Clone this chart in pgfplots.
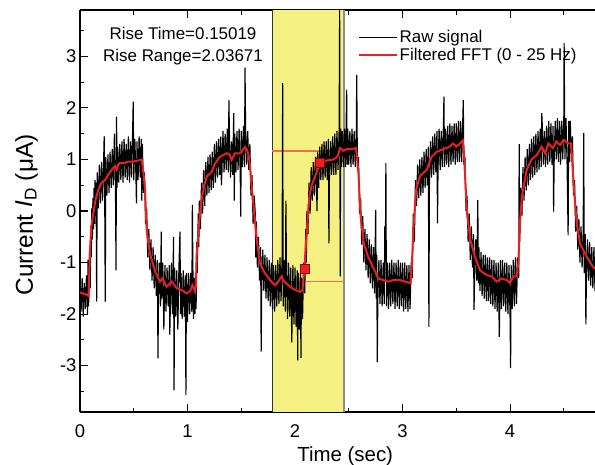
\documentclass[border=0pt]{standalone}
\usepackage{fontspec}
\setmainfont{Liberation Sans}
\usepackage{pgfplots}
\pgfplotsset{compat=1.18}

\definecolor{fftred}{RGB}{235,30,35}
\definecolor{bandyellow}{RGB}{245,240,130}
\definecolor{guide}{RGB}{240,110,80}
\definecolor{edgegray}{RGB}{140,140,140}

\begin{document}
\begin{tikzpicture}
\path[use as bounding box] (-80bp,-53bp) rectangle (515bp,412bp);
\begin{axis}[
    at={(0,0)}, anchor=south west,
    scale only axis, width=515bp, height=402bp,
    xmin=0, xmax=4.79, ymin=-3.9, ymax=3.9,
    axis x line*=box, axis y line*=left,
    clip=true,
    axis line style={line width=1.3bp},
    xtick={0,1,2,3,4}, minor xtick={0.5,1.5,2.5,3.5,4.5},
    ytick={-3,-2,-1,0,1,2,3}, minor ytick={-3.5,-2.5,-1.5,-0.5,0.5,1.5,2.5,3.5},
    tick align=inside,
    major tick length=8bp, minor tick length=4.5bp,
    every tick/.style={black, line width=1.1bp},
    ticklabel style={font=\fontsize{18.5}{22}\selectfont},
    xticklabel style={yshift=-9bp},
    /pgf/number format/assume math mode=true,
    xlabel={Time (sec)},
    ylabel={Current \textit{I}\textsubscript{D} (μA)},
    xlabel style={font=\fontsize{20.5}{24}\selectfont,
        at={(axis description cs:0.515,-0.122)}, anchor=base},
    ylabel style={font=\fontsize{24.5}{28}\selectfont,
        at={(axis description cs:-0.0913,0.49)}, anchor=base},
    legend style={at={(0.533,0.96)}, anchor=north west, draw=none, fill=none,
        font=\fontsize{17}{20}\selectfont},
    legend cell align=left,
    legend image code/.code={\draw[#1] (0bp,0bp) -- (38bp,0bp);},
]
% highlighted window
\addplot[fill=bandyellow, draw=none, forget plot] coordinates {
    (1.79,-3.9) (1.79,3.9) (2.456,3.9) (2.456,-3.9)} -- cycle;
\addplot[black!80, line width=0.9bp, forget plot] coordinates {(1.79,-3.9) (1.79,3.9)};
\addplot[edgegray, line width=2bp, forget plot] coordinates {(2.456,-3.9) (2.456,3.9)};
% rise levels
\addplot[draw=guide, line width=1.3bp, forget plot] coordinates {(1.79,1.165) (2.456,1.165)};
\addplot[draw=guide, line width=1.3bp, forget plot] coordinates {(1.79,-1.37) (2.456,-1.37)};

% raw signal
\addplot[black, line width=1.15bp, line join=bevel] coordinates {
(0.00,-1.35) (0.01,-1.95) (0.02,-1.30) (0.03,-2.05) (0.04,-1.40) (0.05,-1.90)
(0.06,-1.25) (0.07,-2.00) (0.075,-0.95) (0.08,-1.85) (0.09,-0.70) (0.095,-1.50)
(0.10,-0.30) (0.105,-0.90) (0.11,0.05) (0.115,-0.55) (0.12,0.25) (0.125,-0.35)
(0.13,0.45) (0.135,-0.25) (0.14,0.60) (0.145,-0.10) (0.15,0.55) (0.155,-1.76)
(0.16,0.75) (0.17,0.05) (0.18,0.90) (0.19,0.15) (0.20,0.95) (0.21,0.20)
(0.22,1.00) (0.225,1.45) (0.23,0.25) (0.235,-1.76) (0.24,1.05) (0.25,0.30)
(0.26,1.10) (0.27,0.35) (0.28,1.15) (0.29,0.45) (0.30,1.20) (0.31,0.50)
(0.32,1.50) (0.33,0.45) (0.335,-1.15) (0.34,1.83) (0.345,0.45) (0.35,1.25)
(0.36,0.55) (0.37,1.30) (0.38,0.60) (0.39,1.35) (0.40,0.55) (0.41,1.40)
(0.42,0.65) (0.43,1.30) (0.44,0.60) (0.45,1.45) (0.46,0.55) (0.47,1.35)
(0.48,0.65) (0.49,1.60) (0.495,2.12) (0.50,0.60) (0.51,1.40) (0.52,0.70)
(0.525,0.15) (0.53,1.35) (0.54,0.60) (0.55,1.45) (0.56,0.65) (0.57,1.40)
(0.575,0.20) (0.58,1.30) (0.59,0.35) (0.60,0.75) (0.61,-0.25) (0.62,0.05)
(0.63,-0.90) (0.64,-0.35) (0.65,-1.15) (0.66,-0.55) (0.67,-1.35) (0.68,-0.70)
(0.69,-1.50) (0.70,-0.85) (0.71,-1.65) (0.72,-0.95) (0.725,-2.86) (0.73,-1.75)
(0.74,-1.00) (0.75,-1.85) (0.755,-0.40) (0.76,-1.70) (0.77,-1.00) (0.78,-2.30)
(0.79,-1.05) (0.80,-1.95) (0.81,-1.10) (0.82,-1.85) (0.83,-1.05) (0.835,-2.40)
(0.84,-1.90) (0.85,-1.00) (0.86,-2.00) (0.87,-0.50) (0.875,-3.48) (0.88,-1.10)
(0.89,-2.05) (0.90,-1.15) (0.91,-2.30) (0.92,-1.10) (0.93,-0.40) (0.935,-2.00)
(0.94,-1.20) (0.95,-2.10) (0.96,-1.15) (0.97,-2.05) (0.98,-1.25) (0.985,-3.57)
(0.99,-1.20) (1.00,-2.15) (1.01,-1.20) (1.02,-2.00) (1.03,-1.20) (1.04,-1.95)
(1.045,0.12) (1.05,-1.10) (1.055,-2.10) (1.06,-1.30) (1.07,-2.00) (1.075,-1.20)
(1.08,-1.90) (1.085,-0.60) (1.09,-1.20) (1.10,-0.05) (1.105,-0.70) (1.11,0.20)
(1.12,-0.35) (1.13,0.55) (1.14,-0.05) (1.15,0.80) (1.16,0.10) (1.17,0.95)
(1.18,0.30) (1.19,1.05) (1.20,0.35) (1.21,1.10) (1.22,0.40) (1.23,1.15)
(1.24,0.45) (1.25,1.30) (1.26,0.55) (1.27,1.35) (1.28,0.65) (1.29,1.40)
(1.30,0.70) (1.31,1.45) (1.315,0.50) (1.32,0.75) (1.33,1.55) (1.34,0.75)
(1.35,1.50) (1.36,0.80) (1.37,1.60) (1.38,0.75) (1.385,2.15) (1.39,1.45)
(1.40,0.65) (1.41,1.35) (1.42,0.70) (1.43,1.90) (1.435,0.20) (1.44,1.50)
(1.45,0.75) (1.46,1.55) (1.47,0.80) (1.48,1.60) (1.49,0.75) (1.495,-0.11)
(1.50,1.55) (1.51,0.85) (1.52,1.65) (1.53,0.85) (1.535,2.78) (1.54,1.60)
(1.55,0.90) (1.56,1.55) (1.57,0.80) (1.58,1.30) (1.59,0.30) (1.60,0.70)
(1.61,-0.25) (1.62,0.30) (1.63,-0.04) (1.635,-0.90) (1.64,-0.20) (1.65,-1.10)
(1.66,-0.50) (1.67,-1.35) (1.68,-0.70) (1.685,-2.73) (1.69,-1.50) (1.70,-0.75)
(1.71,-1.55) (1.72,-0.85) (1.73,-1.70) (1.74,-0.90) (1.75,-1.75) (1.76,-0.95)
(1.77,-1.85) (1.78,-1.00) (1.79,-1.90) (1.80,-1.05) (1.81,-1.95) (1.82,-1.05)
(1.83,-1.85) (1.84,-0.95) (1.85,-1.80) (1.86,-0.90) (1.87,-1.75) (1.88,-0.85)
(1.885,2.48) (1.89,-1.85) (1.90,-0.95) (1.91,-1.95) (1.915,0.20) (1.92,-1.00)
(1.93,-2.10) (1.94,-1.00) (1.95,-2.05) (1.96,-1.10) (1.97,-2.55) (1.98,-1.05)
(1.99,-2.20) (2.00,-1.10) (2.01,-2.25) (2.02,-1.15) (2.025,-2.90) (2.03,-1.20)
(2.04,-2.30) (2.05,-1.20) (2.055,-2.85) (2.06,-1.30) (2.07,-2.10) (2.08,-1.00)
(2.09,-1.60) (2.10,-0.35) (2.105,-1.00) (2.11,0.00) (2.12,-0.45) (2.13,0.55)
(2.14,-0.05) (2.15,0.85) (2.16,0.20) (2.17,0.95) (2.18,0.30) (2.19,1.05)
(2.20,0.40) (2.205,0.00) (2.21,1.15) (2.22,0.45) (2.23,1.25) (2.24,0.60)
(2.25,1.30) (2.26,0.60) (2.27,1.35) (2.28,0.65) (2.29,1.35) (2.30,0.60)
(2.31,1.40) (2.315,-0.63) (2.32,0.65) (2.33,1.35) (2.34,0.70) (2.35,1.45)
(2.36,0.70) (2.37,1.50) (2.38,0.70) (2.39,1.55) (2.40,0.80) (2.41,1.55)
(2.415,3.90) (2.42,-1.27) (2.425,1.60) (2.43,0.85) (2.44,1.55) (2.45,0.85)
(2.46,1.60) (2.47,0.85) (2.48,2.35) (2.485,0.90) (2.49,1.60) (2.50,0.90)
(2.51,1.55) (2.52,0.85) (2.53,1.60) (2.54,0.90) (2.55,1.55) (2.56,0.85)
(2.57,1.55) (2.574,2.64) (2.58,0.80) (2.59,1.05) (2.60,-0.05) (2.61,0.25)
(2.62,-0.65) (2.63,-0.10) (2.64,-1.00) (2.65,-0.35) (2.66,-1.15) (2.67,-0.45)
(2.68,-1.30) (2.69,-0.55) (2.70,-1.40) (2.71,-0.65) (2.72,-1.50) (2.73,-0.70)
(2.74,-1.60) (2.75,0.02) (2.755,-1.70) (2.76,-0.85) (2.765,-2.93) (2.77,-1.75)
(2.78,-0.95) (2.79,-1.80) (2.80,-0.95) (2.81,-1.85) (2.82,-1.00) (2.83,-1.80)
(2.835,-0.30) (2.84,-1.00) (2.845,0.93) (2.85,-1.85) (2.86,-1.00) (2.87,-1.90)
(2.88,-1.00) (2.89,-1.85) (2.90,-0.95) (2.91,-1.80) (2.92,-1.00) (2.93,-1.90)
(2.94,-1.00) (2.95,-1.85) (2.96,-0.95) (2.97,-1.90) (2.98,-1.00) (2.99,-1.85)
(3.00,-1.00) (3.01,-1.95) (3.02,-1.00) (3.03,-1.90) (3.04,-1.05) (3.05,-1.95)
(3.06,-1.05) (3.07,-1.90) (3.08,-1.00) (3.09,-1.30) (3.10,-0.05) (3.11,-0.60)
(3.12,0.60) (3.13,0.10) (3.14,0.90) (3.15,0.25) (3.16,1.00) (3.17,0.30)
(3.18,1.05) (3.19,0.35) (3.20,1.15) (3.21,0.45) (3.22,1.20) (3.23,0.50)
(3.24,1.25) (3.245,-2.25) (3.25,0.55) (3.26,1.35) (3.27,0.65) (3.28,1.45)
(3.29,0.70) (3.30,1.50) (3.31,0.75) (3.32,1.55) (3.325,-0.24) (3.33,0.80)
(3.34,1.60) (3.35,0.80) (3.36,1.55) (3.37,0.85) (3.38,1.65) (3.385,2.22)
(3.39,0.85) (3.40,1.60) (3.41,0.90) (3.42,1.65) (3.43,0.85) (3.44,1.70)
(3.45,0.90) (3.46,1.65) (3.47,0.95) (3.48,1.70) (3.49,0.90) (3.50,1.70)
(3.51,0.95) (3.52,1.75) (3.53,0.95) (3.54,1.75) (3.55,0.95) (3.56,1.75)
(3.565,2.15) (3.57,0.90) (3.58,1.05) (3.59,0.00) (3.60,0.30) (3.61,-0.60)
(3.62,-0.05) (3.63,-0.95) (3.64,-0.30) (3.65,-1.10) (3.66,-0.45) (3.665,-1.92)
(3.67,-1.25) (3.68,-0.55) (3.69,-1.35) (3.70,0.21) (3.705,-1.40) (3.71,-0.70)
(3.72,-1.55) (3.73,-0.80) (3.74,-1.65) (3.75,-0.85) (3.76,-1.70) (3.77,-0.85)
(3.78,-1.75) (3.79,-0.90) (3.80,-1.75) (3.81,-0.90) (3.82,-1.80) (3.83,-0.95)
(3.84,-1.85) (3.85,-0.95) (3.86,-1.90) (3.87,-1.00) (3.88,-1.95) (3.89,-1.00)
(3.90,-2.44) (3.91,-0.95) (3.92,-1.90) (3.93,-0.95) (3.94,-1.85) (3.95,-1.00)
(3.96,-1.95) (3.97,-1.00) (3.98,-2.00) (3.99,-1.05) (4.00,-2.05) (4.005,-3.05)
(4.01,-1.05) (4.02,-1.90) (4.03,-0.95) (4.04,-1.85) (4.05,-0.90) (4.06,-1.80)
(4.07,-0.90) (4.08,-1.30) (4.085,1.30) (4.09,-0.60) (4.10,0.45) (4.11,-0.10)
(4.12,0.85) (4.13,0.20) (4.14,1.05) (4.15,0.40) (4.16,1.20) (4.17,0.50)
(4.18,1.30) (4.19,0.60) (4.20,1.40) (4.21,0.65) (4.22,1.45) (4.23,0.70)
(4.24,1.50) (4.25,0.75) (4.26,1.55) (4.27,0.80) (4.28,1.60) (4.29,0.85)
(4.295,1.90) (4.30,1.65) (4.31,0.90) (4.32,1.55) (4.33,0.85) (4.34,1.65)
(4.35,0.90) (4.36,1.75) (4.37,0.95) (4.38,1.70) (4.39,0.90) (4.40,1.65)
(4.405,-0.01) (4.41,0.95) (4.42,1.75) (4.43,1.00) (4.44,1.80) (4.45,0.95)
(4.46,1.75) (4.47,0.90) (4.48,1.75) (4.49,1.00) (4.50,1.85) (4.503,3.26)
(4.51,1.00) (4.52,1.80) (4.53,0.95) (4.54,-0.47) (4.545,1.75) (4.55,0.95)
(4.56,1.75) (4.57,0.95) (4.58,1.45) (4.59,0.30) (4.60,0.60) (4.61,-0.40)
(4.62,0.10) (4.63,-0.75) (4.64,-0.15) (4.65,-1.00) (4.66,-0.30) (4.67,-1.10)
(4.68,-0.40) (4.685,1.51) (4.69,-1.20) (4.70,-0.45) (4.705,-2.20) (4.71,-1.30)
(4.72,-0.55) (4.73,-1.35) (4.74,-0.60) (4.75,-1.45) (4.76,-0.70) (4.77,-1.50)
(4.78,-0.70) (4.79,-1.55)
};
\addlegendentry{Raw signal}

% FFT-filtered signal
\addplot[fftred, line width=2bp] coordinates {
(0,-1.58) (0.03,-1.60) (0.06,-1.62) (0.08,-1.65) (0.085,-1.30) (0.093,-0.76)
(0.105,-0.30) (0.124,-0.04) (0.145,0.22) (0.17,0.41) (0.20,0.55) (0.233,0.60)
(0.265,0.71) (0.295,0.80) (0.326,0.87) (0.34,0.80) (0.355,0.90) (0.372,0.93)
(0.41,0.93) (0.45,0.96) (0.50,0.96) (0.54,0.98) (0.574,1.00) (0.585,0.85)
(0.605,0.41) (0.62,-0.37) (0.65,-0.82) (0.70,-1.18) (0.744,-1.37) (0.766,-1.31)
(0.806,-1.47) (0.853,-1.37) (0.90,-1.50) (0.946,-1.53) (0.99,-1.60) (1.023,-1.56)
(1.045,-1.44) (1.07,-1.56) (1.078,-1.45) (1.085,-0.89) (1.107,-0.24) (1.13,0.21)
(1.155,0.50) (1.18,0.67) (1.225,0.76) (1.256,0.92) (1.30,1.05) (1.365,1.12)
(1.39,1.10) (1.41,0.99) (1.44,1.12) (1.49,1.12) (1.535,1.24) (1.555,1.18)
(1.566,1.09) (1.578,0.95) (1.597,0.47) (1.644,-0.56) (1.674,-1.02) (1.72,-1.21)
(1.78,-1.37) (1.814,-1.44) (1.845,-1.37) (1.86,-1.31) (1.876,-1.27) (1.89,-1.35)
(1.907,-1.38) (1.953,-1.47) (2.00,-1.53) (2.047,-1.57) (2.07,-1.52) (2.087,-1.12)
(2.11,-0.37) (2.133,0.28) (2.155,0.50) (2.186,0.67) (2.233,0.92) (2.295,0.98)
(2.357,1.00) (2.394,1.05) (2.42,1.22) (2.45,1.17) (2.48,1.20) (2.53,1.20)
(2.567,1.22) (2.578,1.00) (2.59,0.73) (2.61,-0.11) (2.64,-0.63) (2.68,-0.89)
(2.73,-1.11) (2.775,-1.31) (2.82,-1.34) (2.87,-1.37) (2.915,-1.34) (2.977,-1.34)
(3.04,-1.38) (3.075,-1.40) (3.086,-1.08) (3.10,-0.37) (3.126,0.41) (3.163,0.68)
(3.225,0.80) (3.27,1.05) (3.318,1.15) (3.38,1.20) (3.44,1.25) (3.47,1.31)
(3.50,1.25) (3.53,1.30) (3.56,1.37) (3.57,1.15) (3.58,0.73) (3.60,-0.05)
(3.63,-0.56) (3.674,-0.89) (3.72,-1.15) (3.78,-1.24) (3.83,-1.27) (3.876,-1.37)
(3.92,-1.31) (3.97,-1.34) (4.00,-1.40) (4.03,-1.27) (4.06,-1.27) (4.078,-1.00)
(4.087,-0.37) (4.11,0.28) (4.155,0.80) (4.20,1.00) (4.25,1.09) (4.295,1.25)
(4.326,1.12) (4.357,1.31) (4.397,1.22) (4.43,1.35) (4.465,1.28) (4.50,1.38)
(4.54,1.31) (4.565,1.31) (4.574,1.10) (4.595,0.41) (4.62,-0.24) (4.65,-0.63)
(4.713,-0.89) (4.77,-1.08) (4.79,-1.12)
};
\addlegendentry{Filtered FFT (0 - 25 Hz)}

% rise start / end markers
\addplot[only marks, mark=square*, mark size=4.5bp, forget plot,
    mark options={fill=fftred, draw=red!60!black, line width=0.6bp}]
    coordinates {(2.087,-1.13) (2.233,0.93)};

\node[align=center, font=\fontsize{17}{22}\selectfont] at (axis cs:0.958,3.2)
    {Rise Time=0.15019\\Rise Range=2.03671};
\end{axis}
\end{tikzpicture}
\end{document}
